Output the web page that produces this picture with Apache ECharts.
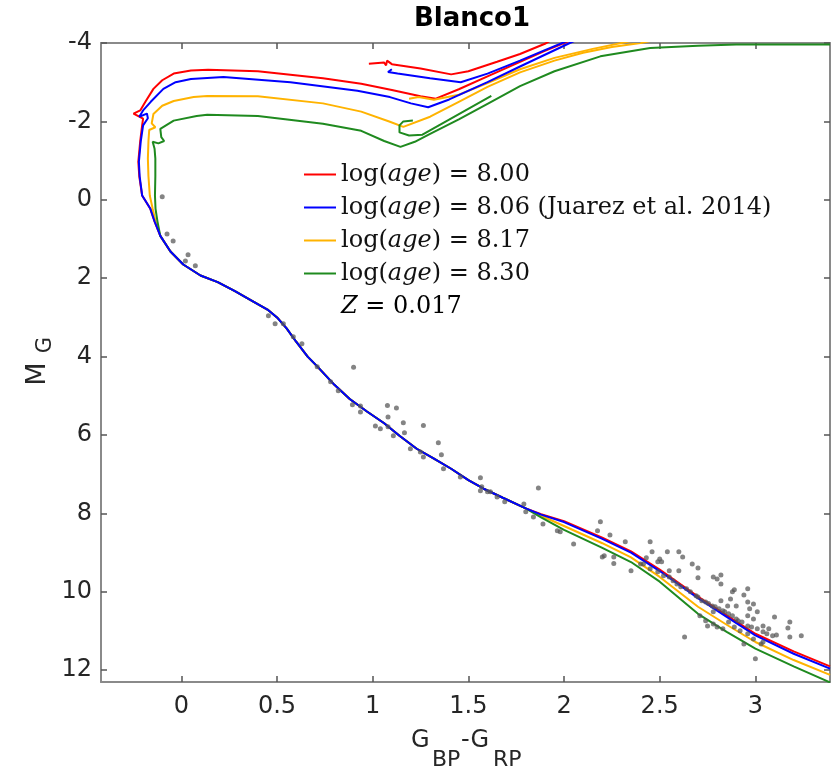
<!DOCTYPE html>
<html><head><meta charset="utf-8">
<script src="https://cdn.jsdelivr.net/npm/echarts@6/dist/echarts.min.js"></script>
<style>html,body{margin:0;padding:0;background:#fff}#c{width:833px;height:769px}</style>
</head><body><div id="c"></div>
<script>
// ---------- data ----------
const xTicks = [0, 0.5, 1, 1.5, 2, 2.5, 3];
const yTicks = [-4, -2, 0, 2, 4, 6, 8, 10, 12];
const ageLabels = ['log(age) = 8.00', 'log(age) = 8.06 (Juarez et al. 2014)', 'log(age) = 8.17', 'log(age) = 8.30'];
const metallicity = 'Z = 0.017';

// shared main sequence part (x = Gbp-Grp, y = M_G)
const msShared = [[1.80,7.87],[1.68,7.60],[1.58,7.37],[1.50,7.15],[1.41,6.86],[1.32,6.60],[1.23,6.35],[1.14,6.02],[1.06,5.70],[0.97,5.40],[0.88,5.08],[0.80,4.72],[0.71,4.25],[0.66,4.00],[0.60,3.62],[0.55,3.28],[0.50,3.00],[0.45,2.80],[0.36,2.55],[0.28,2.33],[0.19,2.10],[0.10,1.93],[0.01,1.65],[-0.057,1.32]];

const redLower = [[3.39,11.90],[3.20,11.52],[3.00,11.07],[2.85,10.60],[2.70,10.12],[2.50,9.43],[2.35,8.97],[2.20,8.62],[2.00,8.20],[1.88,8.02]];
const blueLower = [[3.39,11.96],[3.20,11.58],[3.00,11.11],[2.85,10.64],[2.70,10.16],[2.50,9.47],[2.35,9.00],[2.20,8.65],[2.00,8.22],[1.88,8.03]];
const orangeLower = [[3.39,12.12],[3.20,11.74],[3.00,11.28],[2.85,10.84],[2.70,10.38],[2.50,9.62],[2.35,9.12],[2.20,8.76],[2.00,8.32],[1.88,8.06]];
const greenLower = [[3.39,12.31],[3.20,11.90],[3.00,11.45],[2.85,11.02],[2.70,10.56],[2.50,9.74],[2.35,9.24],[2.20,8.88],[2.00,8.42],[1.88,8.10]];

const redUpper = [[-0.11,0.92],[-0.14,0.55],[-0.162,0.23],[-0.205,-0.11],[-0.22,-0.6],[-0.225,-0.97],[-0.215,-1.5],[-0.205,-1.9],[-0.2,-2.07],[-0.25,-2.2],[-0.215,-2.28],[-0.188,-2.5],[-0.146,-2.83],[-0.10,-3.05],[-0.04,-3.22],[0.05,-3.30],[0.14,-3.32],[0.40,-3.28],[0.74,-3.10],[0.94,-2.96],[1.10,-2.80],[1.25,-2.64],[1.33,-2.58],[1.45,-2.82],[1.60,-3.15],[1.77,-3.52],[1.90,-3.80],[2.00,-4.00],[2.10,-4.20]];
const redLoop = [[0.98,-3.47],[1.06,-3.50],[1.07,-3.43],[1.075,-3.55],[1.10,-3.46],[1.25,-3.35],[1.41,-3.20],[1.50,-3.28],[1.65,-3.52],[1.77,-3.72],[1.90,-3.98],[1.96,-4.15]];

const blueUpper = [[-0.11,0.92],[-0.14,0.55],[-0.162,0.23],[-0.205,-0.11],[-0.218,-0.6],[-0.222,-0.97],[-0.212,-1.5],[-0.2,-1.9],[-0.175,-2.08],[-0.18,-2.2],[-0.22,-2.12],[-0.2,-2.28],[-0.16,-2.5],[-0.094,-2.83],[-0.03,-3.0],[0.05,-3.08],[0.22,-3.13],[0.57,-3.0],[0.92,-2.78],[1.09,-2.62],[1.20,-2.46],[1.29,-2.36],[1.40,-2.56],[1.60,-3.00],[1.77,-3.40],[1.90,-3.70],[2.03,-4.00],[2.10,-4.15]];
const blueLoop = [[1.10,-3.33],[1.08,-3.26],[1.13,-3.22],[1.30,-3.10],[1.46,-3.00],[1.60,-3.22],[1.77,-3.55],[1.90,-3.82],[2.00,-4.02],[2.06,-4.15]];

const orangeUpper = [[-0.11,0.92],[-0.135,0.55],[-0.15,0.23],[-0.165,-0.11],[-0.172,-0.6],[-0.175,-1.05],[-0.172,-1.5],[-0.168,-1.78],[-0.136,-1.85],[-0.155,-1.95],[-0.146,-2.19],[-0.10,-2.40],[-0.04,-2.52],[0.064,-2.62],[0.135,-2.65],[0.40,-2.64],[0.74,-2.46],[0.94,-2.25],[1.09,-1.99],[1.16,-1.86],[1.30,-2.12],[1.45,-2.50],[1.60,-2.88],[1.77,-3.25],[1.95,-3.55],[2.10,-3.75],[2.25,-3.90],[2.40,-4.00],[2.50,-4.10]];
const orangeLoop = [[1.19,-2.58],[1.24,-2.62],[1.32,-2.55],[1.45,-2.68],[1.60,-2.98],[1.77,-3.33],[1.95,-3.62],[2.15,-3.85],[2.35,-4.05]];

const greenUpper = [[-0.11,0.92],[-0.125,0.55],[-0.135,0.23],[-0.138,-0.11],[-0.136,-0.6],[-0.136,-1.05],[-0.14,-1.3],[-0.15,-1.48],[-0.12,-1.44],[-0.09,-1.50],[-0.105,-1.60],[-0.11,-1.81],[-0.04,-2.02],[0.08,-2.14],[0.135,-2.17],[0.40,-2.14],[0.74,-1.94],[0.94,-1.76],[1.06,-1.50],[1.145,-1.35],[1.22,-1.48],[1.30,-1.68],[1.45,-2.05],[1.60,-2.45],[1.77,-2.90],[1.95,-3.28],[2.19,-3.66],[2.45,-3.87],[2.70,-3.93],[2.90,-3.96],[3.39,-3.96]];
const greenLoop = [[1.21,-2.02],[1.16,-2.00],[1.14,-1.90],[1.14,-1.72],[1.19,-1.64],[1.26,-1.66],[1.62,-2.65]];

// Blanco 1 members
const stars = [[-0.10,-0.08],[-0.075,0.87],[-0.043,1.05],[0.021,1.56],[0.035,1.40],[0.073,1.68],[0.455,2.96],[0.49,3.16],[0.533,3.16],[0.585,3.49],[0.63,3.67],[0.71,4.26],[0.78,4.64],[0.82,4.87],[0.90,4.27],[0.894,5.23],[0.936,5.26],[0.936,5.41],[1.014,5.77],[1.04,5.84],[1.077,5.25],[1.124,5.31],[1.08,5.54],[1.08,5.79],[1.16,5.69],[1.166,5.94],[1.265,5.76],[1.108,6.02],[1.197,6.35],[1.249,6.43],[1.265,6.56],[1.343,6.20],[1.359,6.50],[1.37,6.86],[1.458,7.07],[1.563,7.09],[1.563,7.42],[1.60,7.45],[1.866,7.35],
[1.57,7.32],[1.615,7.45],[1.65,7.58],[1.69,7.70],[1.79,7.76],[1.80,7.96],[1.84,8.09],[1.89,8.27],[1.965,8.44],[1.98,8.47],[2.05,8.78],
[2.19,8.21],[2.175,8.44],[2.24,8.55],[2.32,8.72],[2.45,8.72],[2.20,9.11],[2.26,9.11],[2.43,9.13],[2.50,9.16],[2.51,9.23],[2.54,8.98],[2.60,8.98],[2.62,9.11],[2.49,9.23],[2.40,9.29],[2.67,9.29],[2.70,9.39],[2.60,9.46],[2.70,9.64],[2.78,9.62],[2.80,9.67],[2.82,9.57],[2.82,9.80],[2.88,10.00],[2.89,9.95],[2.96,9.92],[2.94,10.08],[2.96,10.26],[2.99,10.31],[2.97,10.43],[3.01,10.51],[3.10,10.64],[3.18,10.77],[3.17,10.92],[3.24,11.12],[3.18,11.15],[3.11,11.10],[2.63,11.15],[3.00,11.71],[2.94,11.33],[3.04,11.28],
[2.415,9.29],[2.45,9.41],[2.49,9.49],[2.52,9.59],[2.55,9.62],[2.57,9.72],[2.59,9.80],[2.61,9.87],[2.64,9.92],[2.66,10.0],[2.69,10.1],[2.70,10.13],[2.72,10.23],[2.74,10.26],[2.755,10.30],[2.775,10.36],[2.79,10.38],[2.81,10.43],[2.83,10.48],[2.84,10.51],[2.86,10.56],[2.88,10.61],[2.90,10.69],[2.91,10.74],[2.93,10.77],[2.96,10.87],[2.98,10.90],[3.01,10.94],[3.04,11.02],[3.06,11.07],[3.09,11.12],
[2.71,10.61],[2.74,10.74],[2.75,10.87],[2.78,10.82],[2.80,10.90],[2.83,10.94],[2.86,10.77],[2.89,10.90],[2.92,10.99],[2.96,11.07],[2.99,11.20],[3.03,11.33],[2.78,10.51],[2.82,10.23],[2.855,10.36],[2.87,10.18],[2.90,10.36],[2.96,10.61],[2.99,10.69],[3.04,10.87],[3.07,10.94],
[2.46,8.98],[2.55,9.46],[2.21,9.08],[2.26,9.28],[2.35,9.46]];

// ---------- styles ----------
const ageColors = ['#ff0000', '#0000ff', '#ffb300', '#1f8a1f'];
const ageZ = [2, 5, 3, 4];

const tracks = [
  [redLower.concat(msShared, redUpper), redLoop],
  [blueLower.concat(msShared, blueUpper), blueLoop],
  [orangeLower.concat(msShared, orangeUpper), orangeLoop],
  [greenLower.concat(msShared, greenUpper), greenLoop]
];

const series = [];
tracks.forEach((segs, i) => {
  segs.forEach(seg => {
    series.push({
      type: 'line', name: ageLabels[i], data: seg, symbol: 'none', showSymbol: false,
      lineStyle: { color: ageColors[i], width: 2 }, itemStyle: { color: ageColors[i] },
      z: ageZ[i], silent: true, clip: true
    });
  });
});
series.push({
  type: 'scatter', name: 'stars', data: stars, symbol: 'circle', symbolSize: 5,
  itemStyle: { color: 'rgba(85,85,85,0.9)' }, z: 10, silent: true
});

const axisLineStyle = { color: '#8a8a8a', width: 2 };
const tickStyle = { color: '#555', width: 1.5 };
const labelFont = { fontFamily: 'DejaVu Sans', fontSize: 24, color: '#262626' };

function xAx(pos, showLabel) {
  return {
    type: 'value', min: -0.42, max: 3.39, position: pos,
    axisLine: { show: true, onZero: false, lineStyle: axisLineStyle },
    axisTick: { show: true, inside: true, length: 6, lineStyle: tickStyle, customValues: xTicks },
    axisLabel: Object.assign({ show: showLabel, margin: 13, customValues: xTicks, formatter: v => String(v) }, labelFont),
    splitLine: { show: false }
  };
}
function yAx(pos, showLabel) {
  return {
    type: 'value', min: -4, max: 12.3, inverse: true, position: pos,
    axisLine: { show: true, onZero: false, lineStyle: axisLineStyle },
    axisTick: { show: true, inside: true, length: 6, lineStyle: tickStyle, customValues: yTicks },
    axisLabel: Object.assign({ show: showLabel, margin: 9, customValues: yTicks, formatter: v => String(v) }, labelFont),
    splitLine: { show: false }
  };
}

const chart = echarts.init(document.getElementById('c'), null, { renderer: 'canvas' });
const serifRich = {
  n: { fontFamily: 'DejaVu Serif', fontSize: 24, color: '#111', lineHeight: 33 },
  i: { fontFamily: 'DejaVu Serif', fontStyle: 'italic', fontSize: 24, color: '#111', lineHeight: 33 }
};
chart.setOption({
  animation: false,
  backgroundColor: '#fff',
  grid: { left: 101, right: 3, top: 43, bottom: 87, containLabel: false },
  xAxis: [xAx('bottom', true), xAx('top', false)],
  yAxis: [yAx('left', true), yAx('right', false)],
  legend: {
    data: ageLabels, orient: 'vertical', left: 304, top: 158, padding: 0, itemGap: 0,
    itemWidth: 32, itemHeight: 2, icon: 'rect', selectedMode: false,
    textStyle: { fontFamily: 'DejaVu Serif', fontSize: 24, color: '#111', lineHeight: 33, rich: serifRich },
    formatter: name => '{n|log(}{i|age}{n|)' + name.slice(8) + '}'
  },
  series: series,
  graphic: [
    { type: 'text', x: 472, y: 19, silent: true, style: { text: 'Blanco1', font: 'bold 26px "DejaVu Sans"', fill: '#000', align: 'center', verticalAlign: 'middle' } },
    { type: 'text', x: 411, y: 741, silent: true, style: { text: 'G', font: '24px "DejaVu Sans"', fill: '#262626', align: 'left', verticalAlign: 'middle' } },
    { type: 'text', x: 432, y: 760, silent: true, style: { text: 'BP', font: '22px "DejaVu Sans"', fill: '#262626', align: 'left', verticalAlign: 'middle' } },
    { type: 'text', x: 461, y: 741, silent: true, style: { text: '-G', font: '24px "DejaVu Sans"', fill: '#262626', align: 'left', verticalAlign: 'middle' } },
    { type: 'text', x: 493, y: 760, silent: true, style: { text: 'RP', font: '22px "DejaVu Sans"', fill: '#262626', align: 'left', verticalAlign: 'middle' } },
    { type: 'text', x: 38, y: 374, rotation: Math.PI / 2, silent: true, style: { text: 'M', font: '27px "DejaVu Sans"', fill: '#262626', align: 'center', verticalAlign: 'middle' } },
    { type: 'text', x: 46, y: 345, rotation: Math.PI / 2, silent: true, style: { text: 'G', font: '21px "DejaVu Sans"', fill: '#262626', align: 'center', verticalAlign: 'middle' } },
    { type: 'text', x: 341, y: 307, silent: true, style: { text: '{i|Z}{n|' + metallicity.slice(1) + '}', rich: serifRich, align: 'left', verticalAlign: 'middle' } }
  ]
});
</script>
</body></html>
